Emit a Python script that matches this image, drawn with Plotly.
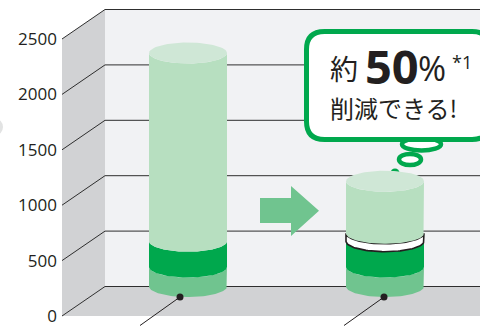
import numpy as np
import plotly.graph_objects as go

W, H = 480, 326

# Vertical axis
tick_values = [0, 500, 1000, 1500, 2000, 2500]

# Stacked cylinder levels
categories = ["before", "after"]
base_level = [176, 176]
dark_level = [409, 409]
gap_level = [None, 480]
top_level = [2107, 950]

# Chart geometry, kept in axis units
PX_PER_UNIT_Y = 55.4 / 500
PX_PER_CAT = 197.0
X0_PX = 188.0          # pixel column of the first category
PLOT_LEFT = 62
Y_ZERO_PX = 316.0
DEPTH_Y = 29.5 / PX_PER_UNIT_Y
DEPTH_X = 43 / PX_PER_CAT
RADIUS_X = 39 / PX_PER_CAT
RADIUS_Y = 10.5 / PX_PER_UNIT_Y

# Horizontal offset of each leader dot from its cylinder's centre, in pixels
leader_offset = [-8, -1]

x_range = [(PLOT_LEFT - X0_PX) / PX_PER_CAT, (W - X0_PX) / PX_PER_CAT]
y_range = [-(H - Y_ZERO_PX) / PX_PER_UNIT_Y, Y_ZERO_PX / PX_PER_UNIT_Y]
x_left = x_range[0]
x_right = x_range[1]
x_back = x_left + DEPTH_X
y_top = tick_values[-1]

WALL = "#d1d2d4"
BACK = "#f1f2f4"
LINE = "#2e2e2e"
LIGHT = "#b7dfc0"
LID = "#cfe7d6"
DARK = "#00a84d"
MID = "#70c48f"
INK = "#231f20"


def poly(xs, ys, color, line=None, width=0):
    return go.Scatter(
        x=list(xs), y=list(ys), mode="lines", fill="toself", fillcolor=color,
        line=dict(color=line or color, width=width), hoverinfo="skip", showlegend=False,
    )


def band(cx, v0, v1, color, line=None, width=0):
    """Side of a cylinder between two levels; levels sit on the back-wall scale."""
    t = np.linspace(np.pi, 2 * np.pi, 60)
    xs = cx + RADIUS_X * np.cos(t)
    low = v0 + DEPTH_Y + RADIUS_Y * np.sin(t)
    high = v1 + DEPTH_Y + RADIUS_Y * np.sin(t)
    return poly(np.r_[xs, xs[::-1], xs[0]], np.r_[high, low[::-1], high[0]], color, line, width)


def lid(cx, v, color):
    t = np.linspace(0, 2 * np.pi, 90)
    return poly(cx + RADIUS_X * np.cos(t), v + DEPTH_Y + RADIUS_Y * np.sin(t), color)


traces = [
    poly([x_back, x_right, x_right, x_back], [DEPTH_Y, DEPTH_Y, y_top + DEPTH_Y, y_top + DEPTH_Y], BACK),
    poly([x_left, x_back, x_back, x_left], [0, DEPTH_Y, y_top + DEPTH_Y, y_top], WALL),
    poly([x_left, x_back, x_right, x_right], [0, DEPTH_Y, DEPTH_Y, 0], WALL),
]

for v in tick_values:
    traces.append(go.Scatter(
        x=[x_left, x_back, x_right], y=[v, v + DEPTH_Y, v + DEPTH_Y], mode="lines",
        line=dict(color=LINE, width=1), hoverinfo="skip", showlegend=False,
    ))

# Smallest puff of the speech bubble, tucked behind the second lid
traces.append(go.Scatter(
    x=[(395 - X0_PX) / PX_PER_CAT], y=[(Y_ZERO_PX - 173) / PX_PER_UNIT_Y], mode="markers",
    marker=dict(color=DARK, size=9), hoverinfo="skip", showlegend=False,
))

for i, name in enumerate(categories):
    traces.append(band(i, 0, base_level[i], MID))
    traces.append(band(i, base_level[i], dark_level[i], DARK))
    start = dark_level[i]
    if gap_level[i] is not None:
        traces.append(band(i, dark_level[i], gap_level[i], "#ffffff", INK, 1.6))
        start = gap_level[i]
    traces.append(band(i, start, top_level[i], LIGHT))
    traces.append(lid(i, top_level[i], LID))

# Leader lines from the foot of each cylinder
for i in range(len(categories)):
    foot = DEPTH_Y - RADIUS_Y
    dot_x = i + leader_offset[i] / PX_PER_CAT
    traces.append(go.Scatter(
        x=[dot_x, dot_x - 40 / PX_PER_CAT], y=[foot, foot - 28.5 / PX_PER_UNIT_Y],
        mode="lines", line=dict(color=INK, width=1), hoverinfo="skip", showlegend=False,
        cliponaxis=False,
    ))
    traces.append(go.Scatter(
        x=[dot_x], y=[foot], mode="markers",
        marker=dict(color=INK, size=7), hoverinfo="skip", showlegend=False,
    ))

fig = go.Figure(traces)


def px(x):
    return (x - PLOT_LEFT) / (W - PLOT_LEFT)


def py(y):
    return 1 - y / H


def ellipse(x0, y0, x1, y1, fill, line=None, width=0):
    return dict(
        type="circle", xref="paper", yref="paper", x0=px(x0), x1=px(x1), y0=py(y0), y1=py(y1),
        fillcolor=fill, line=dict(color=line or fill, width=width), layer="above",
    )


def rounded_box(x0, y0, x1, y1, r):
    return (
        f"M{px(x0 + r)},{py(y0)} L{px(x1 - r)},{py(y0)} Q{px(x1)},{py(y0)} {px(x1)},{py(y0 + r)} "
        f"L{px(x1)},{py(y1 - r)} Q{px(x1)},{py(y1)} {px(x1 - r)},{py(y1)} "
        f"L{px(x0 + r)},{py(y1)} Q{px(x0)},{py(y1)} {px(x0)},{py(y1 - r)} "
        f"L{px(x0)},{py(y0 + r)} Q{px(x0)},{py(y0)} {px(x0 + r)},{py(y0)} Z"
    )


arrow = [(260, 198), (291, 198), (291, 186), (319, 210.7), (291, 236), (291, 223), (260, 223)]
arrow_path = "M" + " L".join(f"{px(a)},{py(b)}" for a, b in arrow) + " Z"

shapes = [
    ellipse(-12, 119, 3, 135, "#e2e3e3"),
    dict(type="path", xref="paper", yref="paper", path=arrow_path, fillcolor=MID,
         line=dict(width=0), layer="above"),
    ellipse(399, 154, 421, 165, "#ffffff", DARK, 4.5),
    ellipse(402, 138, 441, 150.5, "#ffffff", DARK, 4.5),
    dict(type="path", xref="paper", yref="paper", path=rounded_box(306.5, 31.5, 490, 139.5, 18),
         fillcolor="#ffffff", line=dict(color=DARK, width=5), layer="above"),
]

CJK = "Noto Sans CJK JP"
LATIN = "Open Sans"


def label(x, y, text, size, family=CJK, color=INK, anchor="left"):
    return dict(
        xref="paper", yref="paper", x=px(x), y=py(y), text=text, showarrow=False,
        xanchor=anchor, yanchor="middle", font=dict(family=family, size=size, color=color),
        borderpad=0, borderwidth=0,
    )


annotations = [
    label(330, 68, "約", 28),
    label(365, 66, "<b>50</b>", 47, LATIN),
    label(418, 68, "%", 34, LATIN),
    label(452, 62, "*1", 18, LATIN),
    label(330, 107, "削減できる!", 24),
]

fig.update_layout(
    width=W, height=H, autosize=False,
    margin=dict(l=PLOT_LEFT, r=0, t=0, b=0),
    paper_bgcolor="#ffffff", plot_bgcolor="#ffffff",
    shapes=shapes, annotations=annotations, showlegend=False,
    xaxis=dict(range=x_range, visible=False, fixedrange=True),
    yaxis=dict(
        range=y_range, tickmode="array", tickvals=tick_values,
        ticktext=[str(v) for v in tick_values], showgrid=False, zeroline=False,
        showline=False, ticks="", ticklabelstandoff=4, ticklabeloverflow="allow",
        fixedrange=True, tickfont=dict(family=LATIN, size=17, color=INK),
    ),
)

fig.write_html("out.html", config=dict(displayModeBar=False))
